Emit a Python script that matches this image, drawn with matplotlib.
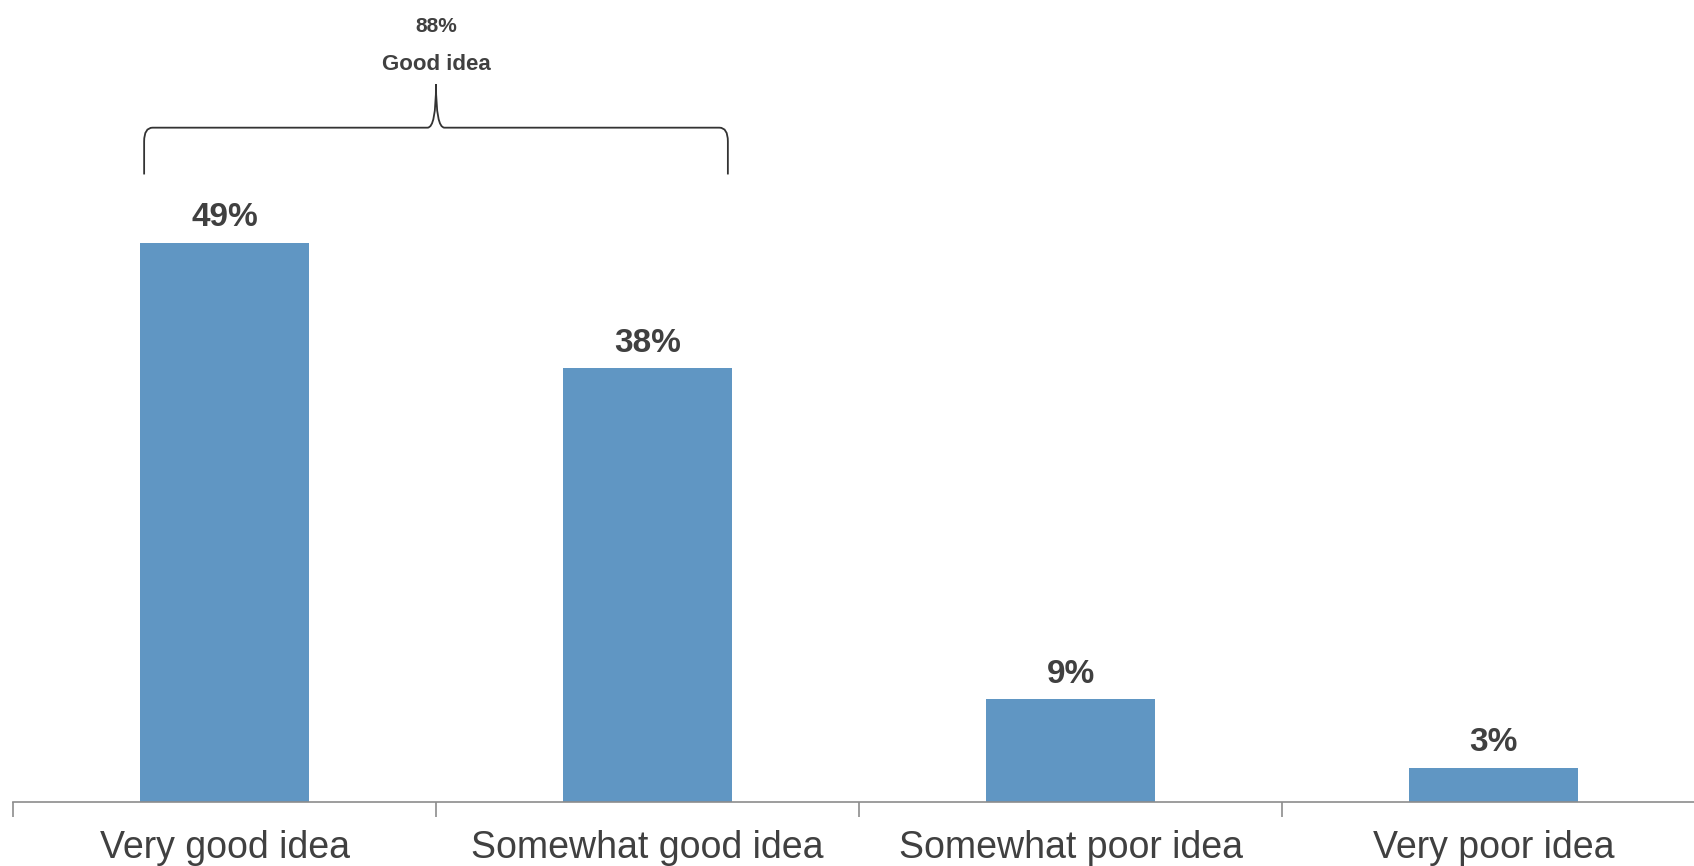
import matplotlib.pyplot as plt
from matplotlib.path import Path
from matplotlib.patches import PathPatch

plt.rcParams['font.family'] = ['Liberation Sans', 'DejaVu Sans']

categories = ['Very good idea', 'Somewhat good idea', 'Somewhat poor idea', 'Very poor idea']
values = [49, 38, 9, 3]
labels = ['49%', '38%', '9%', '3%']
group_label = 'Good idea'
group_value = '88%'

bar_color = '#6096C3'
text_color = '#404040'
width = 0.4

fig = plt.figure(figsize=(16.94, 8.66), dpi=100)
ax = fig.add_axes([13 / 1694, 64 / 866, 1692 / 1694, 798.7 / 866])

x = range(len(categories))
bars = ax.bar(x, values, width=width, color=bar_color)

for b, lab in zip(bars, labels):
    ax.annotate(lab, (b.get_x() + b.get_width() / 2, b.get_height()),
                xytext=(0, 7), textcoords='offset points', ha='center', va='bottom',
                fontsize=24, fontweight='bold', color=text_color)

ax.set_xlim(-0.5, len(categories) - 0.5)
ax.set_ylim(0, 70)
ax.set_yticks([])
for s in ['top', 'right', 'left']:
    ax.spines[s].set_visible(False)
ax.spines['bottom'].set_color('#8c8c8c')
ax.spines['bottom'].set_linewidth(1.2)

ax.set_xticks([i - 0.5 for i in range(len(categories) + 1)])
ax.set_xticklabels([])
ax.set_xticks(list(x), minor=True)
ax.set_xticklabels(categories, minor=True)
ax.tick_params(axis='x', which='major', length=11, width=1.2, color='#8c8c8c', direction='out')
ax.tick_params(axis='x', which='minor', length=0, pad=20, labelsize=27, labelcolor=text_color)

# brace over the first two bars
left = 0 - width / 2 + 0.01
right = 1 + width / 2 - 0.01
mid = (left + right) / 2
y0 = max(values) + 6
y1 = y0 + 4.1
tip = y1 + 3.8
rx, ry = 0.02, 1.2
verts = [(left, y0), (left, y1 - ry), (left, y1), (left + rx, y1),
         (mid - rx, y1), (mid, y1), (mid, tip),
         (mid, y1), (mid + rx, y1),
         (right - rx, y1), (right, y1), (right, y1 - ry), (right, y0)]
codes = [Path.MOVETO, Path.LINETO, Path.CURVE3, Path.CURVE3,
         Path.LINETO, Path.CURVE3, Path.CURVE3,
         Path.CURVE3, Path.CURVE3,
         Path.LINETO, Path.CURVE3, Path.CURVE3, Path.LINETO]
ax.add_patch(PathPatch(Path(verts, codes), facecolor='none', edgecolor='#333333', lw=1.3, clip_on=False))

ax.text(mid, tip + 1.7, group_label, ha='center', va='center', fontsize=16,
        fontweight='bold', color=text_color)
ax.text(mid, tip + 5.1, group_value, ha='center', va='center', fontsize=15,
        fontweight='bold', color=text_color)

fig.savefig('out.png', dpi=100)
